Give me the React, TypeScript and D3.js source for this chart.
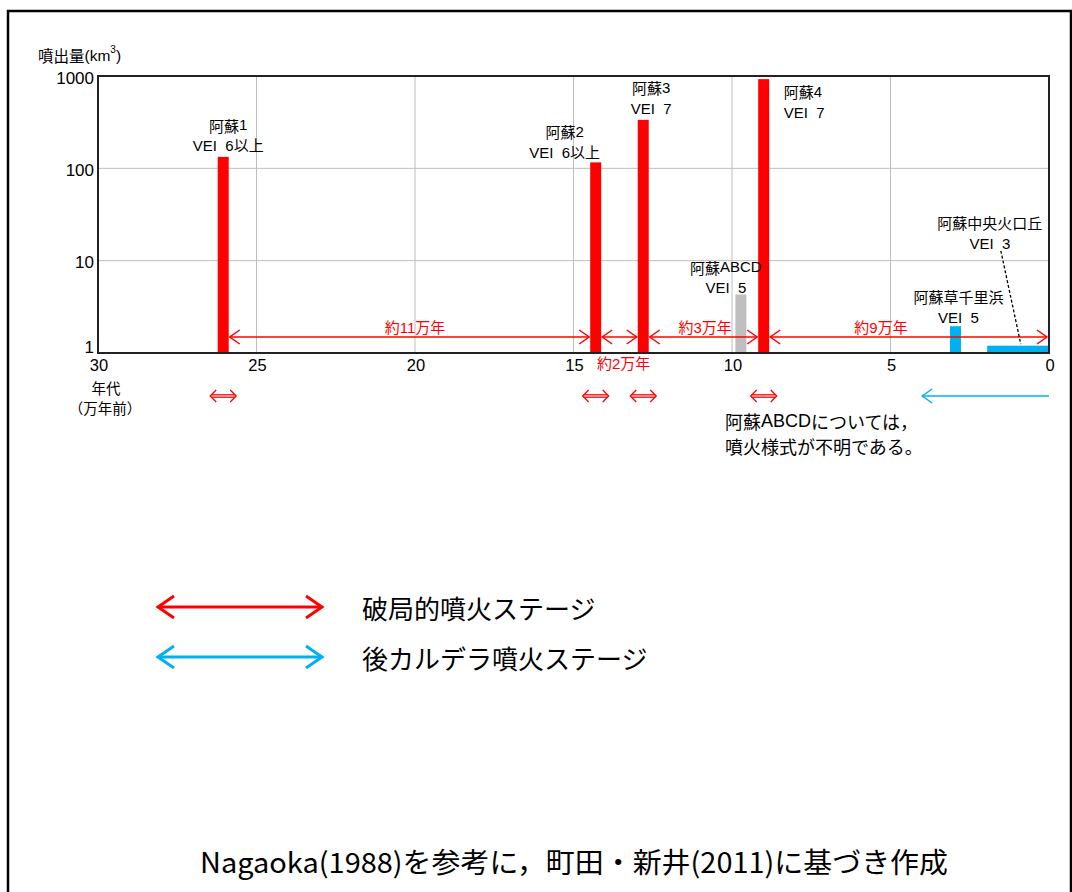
import React from "react";
import * as d3 from "d3";

// ---- data ----
const barNames = ["阿蘇1", "阿蘇2", "阿蘇3", "阿蘇ABCD", "阿蘇4", "阿蘇草千里浜", "阿蘇中央火口丘"];
const barVEI = ["VEI\u00A0\u00A06以上", "VEI\u00A0\u00A06以上", "VEI\u00A0\u00A07", "VEI\u00A0\u00A05", "VEI\u00A0\u00A07", "VEI\u00A0\u00A05", "VEI\u00A0\u00A03"];
const barAgeStart = [26.05, 14.3, 12.8, 9.72, 9.0, 2.95, 1.95]; // 万年前
const barAgeEnd = [26.05, 14.3, 12.8, 9.72, 9.0, 2.95, 0];
const barVolume = [133, 116, 335, 4.3, 925, 1.95, 1.2]; // km3
const barKind = ["red", "red", "red", "gray", "red", "blue", "blue"];

const xTicks = [30, 25, 20, 15, 10, 5, 0];
const yTicks = [1, 10, 100, 1000];

const intervalFrom = [26.05, 14.3, 12.8, 9.0];
const intervalTo = [14.3, 12.8, 9.0, 0];
const intervalText = ["約11万年", "約2万年", "約3万年", "約9万年"];
const intervalTextAge = [20, 13.42, 10.85, 5.3];

const stageMarkAges = [26.05, 14.3, 12.8, 9.0];
const postCalderaFrom = 0;
const postCalderaTo = 4;

const leaderFrom = [1.52, 12.8];
const leaderTo = [0.89, 1.25];

const legendItems = ["破局的噴火ステージ", "後カルデラ噴火ステージ"];

// ---- styling / layout ----
const W = 1072;
const H = 892;
const RED = "#FF0000";
const BLUE = "#00B0F0";
const GRAY = "#BFBFBF";
const colorOf: Record<string, string> = { red: RED, blue: BLUE, gray: GRAY };
const FONT = "'Liberation Sans', Arial, 'Noto Sans CJK JP', sans-serif";
const JFONT = "'Noto Sans CJK JP', sans-serif";

// label offsets relative to bar top center: [dx, dyLine2, anchor]
const labelOffsets: [number, number, string][] = [
  [5, -11, "middle"],
  [-31, -10, "middle"],
  [8, -12, "middle"],
  [-15, -7, "middle"],
  [20, 0, "start"],
  [3, -9, "middle"],
  [0, 0, "middle"],
];

export default function App() {
  const x = d3.scaleLinear().domain([30, 0]).range([98, 1049]);
  const y = d3.scaleLog().domain([1, 1000]).range([353, 76]);
  const barW = 11;
  const arrowY = 337;
  const markY = 396;

  const chevron = (xTip: number, yy: number, dir: number, len: number, half: number) =>
    `M${xTip + dir * len},${yy - half}L${xTip},${yy}L${xTip + dir * len},${yy + half}`;

  const bars = barNames.map((name, i) => {
    const x0 = x(barAgeStart[i]);
    const x1 = x(barAgeEnd[i]);
    const single = barAgeStart[i] === barAgeEnd[i];
    const left = single ? x0 - barW / 2 : x0;
    const right = single ? x0 + barW / 2 : x1;
    const top = y(barVolume[i]);
    return { name, vei: barVEI[i], left, right, top, cx: (left + right) / 2, color: colorOf[barKind[i]] };
  });

  const labelPos = bars.map((b, i) => {
    const [dx, dy, anchor] = labelOffsets[i];
    if (i === 6) {
      return { x: x(leaderFrom[0]) - 11, y2: 243, anchor };
    }
    if (i === 4) {
      return { x: b.cx + dx, y2: 112, anchor };
    }
    if (i === 2) {
      return { x: b.cx + dx, y2: 108, anchor };
    }
    return { x: b.cx + dx, y2: b.top + dy, anchor };
  });

  return (
    <svg width={W} height={H} style={{ position: "absolute", left: 0, top: 0, background: "#fff" }}>
      {/* outer frame */}
      <rect x={8} y={11} width={1063} height={H + 20} fill="none" stroke="#000" strokeWidth={2.5} />

      {/* gridlines */}
      {xTicks.filter((t) => t !== 30 && t !== 0).map((t) => (
        <line key={"gx" + t} x1={x(t)} x2={x(t)} y1={y(1000)} y2={y(1)} stroke="#BDBDBD" strokeWidth={1} />
      ))}
      {yTicks.filter((t) => t !== 1 && t !== 1000).map((t) => (
        <line key={"gy" + t} x1={x(30)} x2={x(0)} y1={y(t)} y2={y(t)} stroke="#BDBDBD" strokeWidth={1} />
      ))}

      {/* bars */}
      {bars.map((b) => (
        <rect key={b.name} x={b.left} y={b.top} width={b.right - b.left} height={y(1) - b.top} fill={b.color} />
      ))}

      {/* plot frame */}
      <rect x={x(30)} y={y(1000)} width={x(0) - x(30)} height={y(1) - y(1000)} fill="none" stroke="#222" strokeWidth={2} />

      {/* y axis ticks */}
      {yTicks.map((t) => (
        <text key={"yt" + t} x={94} y={y(t) + (t === 1 ? -6 : 2)} textAnchor="end" dominantBaseline="central"
          fontFamily={FONT} fontSize={17} fill="#000">{t}</text>
      ))}
      <text x={38} y={55} dominantBaseline="central" fontFamily={FONT} fontSize={15.5} fill="#000">
        <tspan fontFamily={JFONT}>噴出量</tspan>(km<tspan dy={-6} fontSize={10}>3</tspan><tspan dy={6}>)</tspan>
      </text>

      {/* x axis ticks */}
      {xTicks.map((t) => (
        <text key={"xt" + t} x={x(t) + 1} y={365} textAnchor="middle" dominantBaseline="central"
          fontFamily={FONT} fontSize={16.5} fill="#000">{t}</text>
      ))}
      <text x={106} y={387} textAnchor="middle" dominantBaseline="central" fontFamily={JFONT} fontSize={14.5} fill="#000">年代</text>
      <text x={105} y={407} textAnchor="middle" dominantBaseline="central" fontFamily={JFONT} fontSize={14.5} fill="#000">（万年前）</text>

      {/* interval arrows */}
      {intervalFrom.map((a, i) => {
        const x1 = x(a) + barW / 2 + 1;
        const x2 = intervalTo[i] === 0 ? x(0) - 2 : x(intervalTo[i]) - barW / 2 - 1;
        const below = i === 1;
        return (
          <g key={"iv" + i}>
            <line x1={x1} x2={x2} y1={arrowY} y2={arrowY} stroke={RED} strokeWidth={1.5} />
            <path d={chevron(x1, arrowY, 1, 10, 7)} fill="none" stroke={RED} strokeWidth={1.5} />
            <path d={chevron(x2, arrowY, -1, 10, 7)} fill="none" stroke={RED} strokeWidth={1.5} />
            <text x={x(intervalTextAge[i])} y={below ? 363 : arrowY - 10} textAnchor="middle" dominantBaseline="central"
              fontFamily={FONT} fontSize={15} fill={RED}>{intervalText[i]}</text>
          </g>
        );
      })}

      {/* stage markers below the axis */}
      {stageMarkAges.map((a, i) => {
        const cx = x(a);
        const hw = 13;
        return (
          <g key={"sm" + i} stroke={RED} strokeWidth={1.3} fill="none">
            <path d={chevron(cx - hw, markY, 1, 6, 6)} />
            <path d={chevron(cx + hw, markY, -1, 6, 6)} />
            <line x1={cx - hw + 1} x2={cx + hw - 1} y1={markY - 1.2} y2={markY - 1.2} />
            <line x1={cx - hw + 1} x2={cx + hw - 1} y1={markY + 1.2} y2={markY + 1.2} />
          </g>
        );
      })}
      <g stroke={BLUE} strokeWidth={1.5} fill="none">
        <line x1={x(postCalderaFrom)} x2={x(postCalderaTo)} y1={markY} y2={markY} />
        <path d={chevron(x(postCalderaTo), markY, 1, 10, 7)} />
      </g>

      {/* leader line */}
      <line x1={x(leaderFrom[0])} y1={y(leaderFrom[1])} x2={x(leaderTo[0])} y2={y(leaderTo[1])}
        stroke="#000" strokeWidth={1.3} strokeDasharray="3,2" />

      {/* bar labels */}
      {bars.map((b, i) => {
        const p = labelPos[i];
        return (
          <g key={"lb" + i} fontFamily={FONT} fontSize={15} fill="#000" textAnchor={p.anchor}>
            <text x={p.x} y={p.y2 - 21} dominantBaseline="central">
              <tspan fontFamily={JFONT}>{b.name.replace(/[0-9A-Z]+$/, "")}</tspan>
              {b.name.match(/[0-9A-Z]+$/)?.[0] ?? ""}
            </text>
            <text x={p.x} y={p.y2} dominantBaseline="central">{b.vei}</text>
          </g>
        );
      })}

      {/* note */}
      <text x={725} y={421} dominantBaseline="central" fontFamily={FONT} fontSize={18} fill="#000">
        <tspan fontFamily={JFONT}>阿蘇</tspan>ABCD<tspan fontFamily={JFONT}>については，</tspan>
      </text>
      <text x={725} y={446} dominantBaseline="central" fontFamily={JFONT} fontSize={18} fill="#000">噴火様式が不明である。</text>

      {/* legend */}
      {legendItems.map((t, i) => {
        const ly = 607 + i * 50;
        const c = i === 0 ? RED : BLUE;
        return (
          <g key={"lg" + i}>
            <line x1={158} x2={322} y1={ly} y2={ly} stroke={c} strokeWidth={3} />
            <path d={chevron(158, ly, 1, 16, 11)} fill="none" stroke={c} strokeWidth={3} />
            <path d={chevron(322, ly, -1, 16, 11)} fill="none" stroke={c} strokeWidth={3} />
            <text x={362} y={ly} dominantBaseline="central" fontFamily={JFONT} fontSize={26} fill="#000">{t}</text>
          </g>
        );
      })}

      {/* source */}
      <text x={200} y={861} dominantBaseline="central" fontFamily="'Liberation Sans Narrow', 'Noto Sans CJK JP', sans-serif"
        fontSize={28} fill="#000" textLength={748} lengthAdjust="spacingAndGlyphs">
        Nagaoka(1988)を参考に，町田・新井(2011)に基づき作成
      </text>
    </svg>
  );
}
